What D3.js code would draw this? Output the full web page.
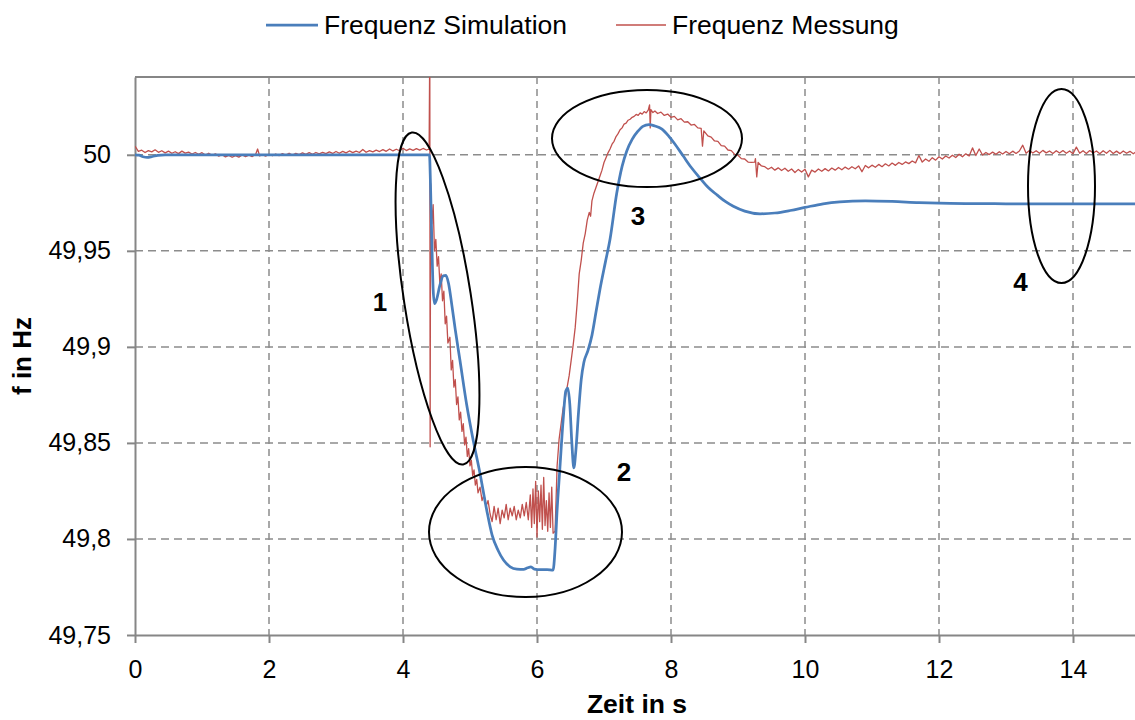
<!DOCTYPE html>
<html><head><meta charset="utf-8">
<script src="https://cdn.jsdelivr.net/npm/d3@7"></script>
<style>body{margin:0;background:#fff} text{font-family:"Liberation Sans",Arial,sans-serif}</style>
</head><body><svg id="c" width="1135" height="720"></svg>
<script>
const xTicks = [0, 2, 4, 6, 8, 10, 12, 14];
const xTickLabels = ["0", "2", "4", "6", "8", "10", "12", "14"];
const yTicks = [49.75, 49.8, 49.85, 49.9, 49.95, 50];
const yTickLabels = ["49,75", "49,8", "49,85", "49,9", "49,95", "50"];
const seriesNames = ["Frequenz Simulation", "Frequenz Messung"];
const xTitle = "Zeit in s";
const yTitle = "f in Hz";
const annotationLabels = ["1", "2", "3", "4"];

// Frequenz Simulation [t in s, f in Hz]
const simulation = [[0,50],[0.06,49.9998],[0.12,49.9990],[0.18,49.9986],[0.26,49.9991],[0.34,49.9997],[0.45,50],[2,50],[4.395,50],
[4.41,49.985],[4.43,49.955],[4.45,49.930],[4.47,49.9225],[4.50,49.9245],[4.55,49.9320],[4.60,49.9370],[4.64,49.9372],[4.68,49.9330],
[4.73,49.9215],[4.78,49.9090],[4.85,49.8930],[4.95,49.8700],[5.05,49.8510],[5.15,49.8340],[5.25,49.8150],[5.33,49.8020],[5.42,49.7940],
[5.50,49.7890],[5.60,49.7855],[5.70,49.7843],[5.80,49.7842],[5.86,49.7850],[5.91,49.7855],[5.96,49.7843],[6.05,49.7840],[6.15,49.7840],
[6.24,49.7838],[6.27,49.7950],[6.30,49.8150],[6.34,49.8360],[6.39,49.8620],[6.43,49.8770],[6.46,49.8785],[6.49,49.8700],[6.52,49.8500],
[6.55,49.8370],[6.58,49.8460],[6.62,49.8660],[6.66,49.8830],[6.70,49.8920],[6.76,49.8980],[6.82,49.9060],[6.88,49.9180],[6.94,49.9300],
[7.02,49.9440],[7.09,49.9560],[7.19,49.9800],[7.27,49.9940],[7.34,50.0020],[7.42,50.0080],[7.50,50.0120],[7.58,50.0148],[7.67,50.0157],
[7.76,50.0150],[7.86,50.0135],[7.96,50.0100],[8.06,50.0055],[8.18,49.9995],[8.30,49.9935],[8.43,49.9880],[8.56,49.9828],[8.69,49.9790],
[8.81,49.9757],[8.93,49.9732],[9.10,49.9707],[9.33,49.9693],[9.55,49.9697],[9.78,49.9710],[10.00,49.9726],[10.27,49.9745],[10.52,49.9755],
[10.90,49.9760],[11.30,49.9757],[11.70,49.9751],[12.00,49.9748],[12.50,49.9746],[13.00,49.9745],[14.00,49.9745],[15.00,49.9745]];

// Frequenz Messung [t in s, f in Hz]
const measurement = [
[0.00,50.0045],[0.05,50.0018],[0.10,50.0024],[0.15,50.0012],[0.20,50.0022],[0.25,50.0015],[0.30,50.0026],[0.35,50.0013],[0.40,50.0021],[0.45,50.0010],
[0.50,50.0019],[0.55,50.0008],[0.60,50.0016],[0.65,50.0006],[0.70,50.0019],[0.75,50.0009],[0.80,50.0014],[0.85,50.0004],[0.90,50.0012],[0.95,50.0003],
[1.00,50.0011],[1.05,49.9999],[1.10,50.0008],[1.15,49.9997],[1.20,50.0005],[1.25,49.9993],[1.30,50.0001],[1.35,49.9989],[1.40,49.9997],[1.45,49.9987],
[1.50,49.9996],[1.55,49.9988],[1.60,49.9999],[1.65,49.9990],[1.70,49.9998],[1.75,49.9991],[1.80,50.0002],[1.83,50.0030],[1.86,49.9994],[1.90,50.0001],
[1.95,49.9993],[2.00,50.0003],[2.05,49.9995],[2.10,50.0004],[2.15,49.9996],[2.20,50.0006],[2.25,49.9998],[2.30,50.0008],[2.35,49.9999],[2.40,50.0007],
[2.45,50.0001],[2.50,50.0010],[2.55,50.0002],[2.60,50.0011],[2.65,50.0003],[2.70,50.0012],[2.75,50.0005],[2.80,50.0013],[2.85,50.0006],[2.90,50.0015],
[2.95,50.0007],[3.00,50.0017],[3.05,50.0008],[3.10,50.0018],[3.15,50.0010],[3.20,50.0020],[3.25,50.0011],[3.30,50.0019],[3.35,50.0012],[3.40,50.0028],
[3.45,50.0013],[3.50,50.0022],[3.55,50.0015],[3.60,50.0024],[3.65,50.0017],[3.70,50.0027],[3.75,50.0018],[3.80,50.0030],[3.85,50.0020],[3.90,50.0029],
[3.95,50.0021],[4.00,50.0034],[4.05,50.0022],[4.10,50.0031],[4.15,50.0023],[4.20,50.0032],[4.25,50.0024],[4.30,50.0033],[4.35,50.0025],[4.39,50.0030],
[4.400,50.0600],[4.405,49.8480],[4.412,49.9850],[4.43,49.9640],[4.45,49.9740],[4.47,49.9500],[4.49,49.9560],[4.51,49.9420],[4.53,49.9470],[4.55,49.9330],
[4.57,49.9380],[4.59,49.9240],[4.61,49.9290],[4.63,49.9120],[4.65,49.9160],[4.67,49.9020],[4.70,49.9050],[4.72,49.8880],[4.74,49.8930],[4.76,49.8790],
[4.78,49.8830],[4.80,49.8700],[4.82,49.8740],[4.84,49.8620],[4.86,49.8660],[4.88,49.8560],[4.90,49.8600],[4.92,49.8490],[4.94,49.8530],[4.96,49.8430],
[4.98,49.8470],[5.00,49.8380],[5.02,49.8410],[5.04,49.8330],[5.06,49.8360],[5.08,49.8280],[5.10,49.8310],[5.12,49.8240],[5.15,49.8270],[5.18,49.8200],
[5.21,49.8230],[5.24,49.8170],[5.27,49.8200],[5.30,49.8130],[5.33,49.8090],[5.36,49.8170],[5.39,49.8100],[5.42,49.8160],[5.45,49.8080],[5.48,49.8150],
[5.51,49.8110],[5.54,49.8180],[5.57,49.8100],[5.60,49.8160],[5.63,49.8120],[5.66,49.8170],[5.69,49.8100],[5.72,49.8150],[5.75,49.8110],[5.78,49.8180],
[5.81,49.8120],[5.84,49.8190],[5.87,49.8100],[5.90,49.8230],[5.92,49.8060],[5.94,49.8260],[5.96,49.8080],[5.98,49.8300],[6.00,49.8010],[6.02,49.8250],
[6.04,49.8090],[6.06,49.8280],[6.08,49.8050],[6.10,49.8320],[6.12,49.8070],[6.14,49.8200],[6.16,49.8040],[6.18,49.8240],[6.20,49.8060],[6.22,49.8270],
[6.24,49.8030],[6.27,49.8040],[6.30,49.8380],[6.33,49.8520],[6.36,49.8600],[6.39,49.8680],[6.42,49.8730],[6.45,49.8790],[6.48,49.8850],[6.51,49.8930],
[6.54,49.9010],[6.57,49.9100],[6.60,49.9230],[6.63,49.9380],[6.66,49.9450],[6.69,49.9540],[6.72,49.9590],[6.75,49.9660],[6.78,49.9700],[6.80,49.9680],
[6.82,49.9760],[6.85,49.9800],[6.88,49.9830],[6.91,49.9860],[6.94,49.9890],[6.97,49.9920],[7.00,49.9960],[7.03,49.9985],[7.06,50.0010],[7.09,50.0030],
[7.12,50.0055],[7.15,50.0070],[7.18,50.0095],[7.21,50.0110],[7.24,50.0130],[7.27,50.0140],[7.30,50.0160],[7.33,50.0165],[7.36,50.0180],[7.39,50.0185],
[7.42,50.0195],[7.45,50.0200],[7.48,50.0210],[7.51,50.0205],[7.54,50.0218],[7.57,50.0212],[7.60,50.0225],[7.63,50.0218],[7.66,50.0232],[7.68,50.0260],
[7.69,50.0140],[7.70,50.0235],[7.73,50.0220],[7.76,50.0228],[7.80,50.0215],[7.85,50.0222],[7.90,50.0205],[7.95,50.0212],[8.00,50.0195],[8.05,50.0200],
[8.10,50.0182],[8.15,50.0188],[8.20,50.0170],[8.25,50.0172],[8.30,50.0155],[8.35,50.0158],[8.40,50.0140],[8.45,50.0138],[8.47,50.0045],[8.49,50.0125],
[8.55,50.0098],[8.60,50.0092],[8.65,50.0072],[8.70,50.0070],[8.75,50.0048],[8.80,50.0045],[8.85,50.0025],[8.90,50.0022],[8.95,50.0002],[9.00,49.9998],
[9.05,49.9980],[9.10,49.9978],[9.15,49.9962],[9.20,49.9960],[9.25,49.9962],[9.26,49.9980],[9.28,49.9885],[9.30,49.9960],[9.35,49.9942],[9.40,49.9938],
[9.45,49.9925],[9.50,49.9935],[9.55,49.9920],[9.60,49.9932],[9.65,49.9918],[9.70,49.9930],[9.75,49.9914],[9.80,49.9926],[9.85,49.9908],[9.90,49.9924],
[9.95,49.9910],[10.00,49.9925],[10.05,49.9885],[10.10,49.9920],[10.15,49.9910],[10.20,49.9926],[10.25,49.9914],[10.30,49.9928],[10.35,49.9916],[10.40,49.9931],
[10.45,49.9920],[10.50,49.9934],[10.55,49.9922],[10.60,49.9936],[10.65,49.9925],[10.70,49.9938],[10.75,49.9927],[10.80,49.9942],[10.85,49.9912],[10.90,49.9944],
[10.95,49.9932],[11.00,49.9946],[11.05,49.9935],[11.10,49.9950],[11.15,49.9938],[11.20,49.9953],[11.25,49.9942],[11.30,49.9957],[11.35,49.9945],[11.40,49.9960],
[11.45,49.9950],[11.50,49.9963],[11.55,49.9954],[11.60,49.9968],[11.65,49.9958],[11.70,49.9996],[11.75,49.9962],[11.80,49.9978],[11.85,49.9966],[11.90,49.9985],
[11.95,49.9972],[12.00,49.9990],[12.05,49.9978],[12.10,49.9994],[12.15,49.9983],[12.20,49.9998],[12.25,49.9986],[12.30,50.0003],[12.35,49.9990],[12.40,50.0005],
[12.45,49.9994],[12.50,50.0036],[12.55,49.9996],[12.60,50.0030],[12.65,49.9999],[12.70,50.0012],[12.75,50.0001],[12.80,50.0014],[12.85,50.0003],[12.90,50.0016],
[12.95,50.0004],[13.00,50.0017],[13.05,50.0005],[13.10,50.0019],[13.15,50.0007],[13.20,50.0020],[13.25,50.0050],[13.30,50.0008],[13.35,50.0022],[13.40,50.0009],
[13.45,50.0021],[13.50,50.0008],[13.55,50.0023],[13.60,50.0010],[13.65,50.0020],[13.70,50.0007],[13.75,50.0021],[13.80,50.0009],[13.85,50.0022],[13.90,50.0008],
[13.95,50.0020],[14.00,50.0006],[14.05,50.0040],[14.10,50.0008],[14.15,50.0021],[14.20,50.0007],[14.25,50.0022],[14.30,50.0009],[14.35,50.0020],[14.40,50.0006],
[14.45,50.0021],[14.50,50.0008],[14.55,50.0023],[14.60,50.0007],[14.65,50.0019],[14.70,50.0006],[14.75,50.0020],[14.80,50.0008],[14.85,50.0018],[14.90,50.0005],
[14.95,50.0019],[15.00,50.0008]];

const W = 1135, H = 720;
const plot = {left: 135, right: 1140, top: 77, bottom: 635};
const colors = {sim: "#4A7EBB", meas: "#C0504D", axis: "#868686", grid: "#8C8C8C"};
const FONT = 25;

const svg = d3.select("#c");
const x = d3.scaleLinear().domain([0, 15]).range([plot.left, plot.right]);
const y = d3.scaleLinear().domain([49.75, 50.0405]).range([plot.bottom, plot.top]);

svg.append("defs").append("clipPath").attr("id", "clip")
  .append("rect").attr("x", plot.left).attr("y", plot.top)
  .attr("width", plot.right - plot.left).attr("height", plot.bottom - plot.top);

// gridlines
const grid = svg.append("g");
grid.selectAll("line.v").data(xTicks.filter(d => d > 0)).join("line")
  .attr("x1", d => x(d)).attr("x2", d => x(d)).attr("y1", plot.top).attr("y2", plot.bottom)
  .attr("stroke", colors.grid).attr("stroke-width", 1.5).attr("stroke-dasharray", "7,5");
grid.selectAll("line.h").data(yTicks.filter(d => d > 49.75)).join("line")
  .attr("x1", plot.left).attr("x2", plot.right).attr("y1", d => y(d)).attr("y2", d => y(d))
  .attr("stroke", colors.grid).attr("stroke-width", 1.5).attr("stroke-dasharray", "8,5");

// top border
svg.append("line").attr("x1", plot.left).attr("x2", plot.right)
  .attr("y1", plot.top).attr("y2", plot.top)
  .attr("stroke", colors.axis).attr("stroke-width", 2);

// axes
const xAxis = svg.append("g").attr("transform", `translate(0,${plot.bottom})`)
  .call(d3.axisBottom(x).tickValues(xTicks).tickFormat((d, i) => xTickLabels[i])
    .tickSize(8).tickSizeOuter(0).tickPadding(17));
const yAxis = svg.append("g").attr("transform", `translate(${plot.left},0)`)
  .call(d3.axisLeft(y).tickValues(yTicks).tickFormat((d, i) => yTickLabels[i])
    .tickSize(8).tickSizeOuter(0).tickPadding(16));
[xAxis, yAxis].forEach(g => {
  g.select(".domain").attr("stroke", colors.axis).attr("stroke-width", 2);
  g.selectAll(".tick line").attr("stroke", colors.axis).attr("stroke-width", 2);
  g.selectAll(".tick text").attr("fill", "#000").style("font-size", FONT + "px")
    .style("font-family", '"Liberation Sans", Arial, sans-serif');
});

// series
const line = d3.line().x(d => x(d[0])).y(d => y(d[1]));
const plotG = svg.append("g").attr("clip-path", "url(#clip)");
plotG.append("path").datum(measurement)
  .attr("d", line).attr("fill", "none").attr("stroke", colors.meas)
  .attr("stroke-width", 1.3).attr("stroke-linejoin", "round");
plotG.append("path").datum(simulation)
  .attr("d", line.curve(d3.curveMonotoneX)).attr("fill", "none").attr("stroke", colors.sim)
  .attr("stroke-width", 2.75).attr("stroke-linejoin", "round");

// annotation ellipses and numbers
const ellipses = [
  {cx: 437.5, cy: 298.5, rx: 33.5, ry: 168, rot: -8.8},
  {cx: 525.5, cy: 532, rx: 96.5, ry: 65, rot: 0},
  {cx: 647, cy: 138.5, rx: 95, ry: 48.5, rot: 0},
  {cx: 1061.5, cy: 186, rx: 33.5, ry: 97, rot: 0}
];
const labelPos = [[380, 311], [624, 481], [638, 225], [1020.5, 291]];
svg.selectAll("ellipse.ann").data(ellipses).join("ellipse")
  .attr("cx", 0).attr("cy", 0).attr("rx", d => d.rx).attr("ry", d => d.ry)
  .attr("transform", d => `translate(${d.cx},${d.cy}) rotate(${d.rot})`)
  .attr("fill", "none").attr("stroke", "#000").attr("stroke-width", 2);
svg.selectAll("text.ann").data(annotationLabels).join("text")
  .attr("x", (d, i) => labelPos[i][0]).attr("y", (d, i) => labelPos[i][1])
  .attr("text-anchor", "middle").style("font-size", "26px").style("font-weight", "bold")
  .text(d => d);

// axis titles
svg.append("text").attr("x", 637).attr("y", 713).attr("text-anchor", "middle")
  .style("font-size", "26.5px").style("font-weight", "bold").text(xTitle);
svg.append("text").attr("transform", "translate(31,356) rotate(-90)").attr("text-anchor", "middle")
  .style("font-size", "26px").style("font-weight", "bold").text(yTitle);

// legend
const legend = [
  {name: seriesNames[0], color: colors.sim, w: 2.75, x1: 266, x2: 318, tx: 324},
  {name: seriesNames[1], color: colors.meas, w: 1.3, x1: 616, x2: 666, tx: 672}
];
const lg = svg.append("g");
legend.forEach(l => {
  lg.append("line").attr("x1", l.x1).attr("x2", l.x2).attr("y1", 25).attr("y2", 25)
    .attr("stroke", l.color).attr("stroke-width", l.w);
  lg.append("text").attr("x", l.tx).attr("y", 34).style("font-size", "26.5px").text(l.name);
});
</script></body></html>
